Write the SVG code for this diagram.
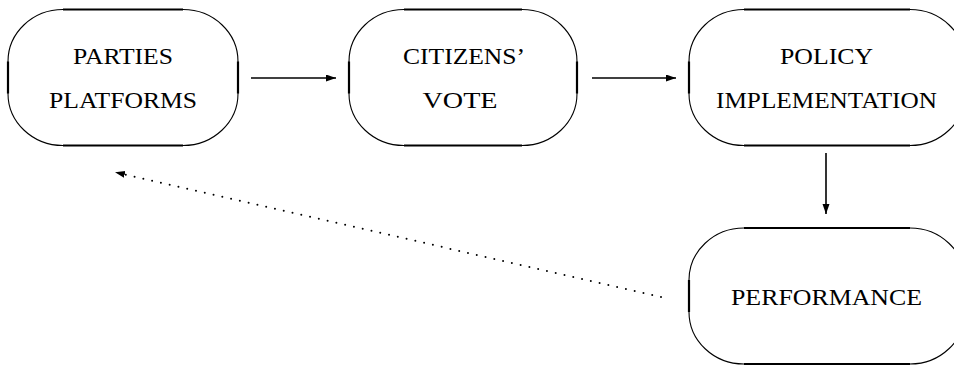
<svg xmlns="http://www.w3.org/2000/svg" width="954" height="367" viewBox="0 0 954 367">
<style>
.box{fill:#fff;stroke:#000;stroke-width:1.1}
.edge{fill:none;stroke:#000;stroke-width:2.2}
.lbl{font-family:"Liberation Serif","Times New Roman",serif;font-size:24px;fill:#000;text-anchor:middle}
.conn{stroke:#000;stroke-width:1.6;fill:none}
.dot{stroke:#000;stroke-width:2;fill:none;stroke-dasharray:0 9;stroke-linecap:round}
</style>
<defs>
<marker id="ah" markerUnits="userSpaceOnUse" markerWidth="11" markerHeight="8" refX="10" refY="3.5" orient="auto">
<path d="M0,0 L10,3.5 L0,7 z" fill="#000"/>
</marker>
</defs>
<rect width="954" height="367" fill="#fff"/>
<g id="parties">
<path class="box" d="M63 9.5 H183 A55 52 0 0 1 238 61.5 V93.5 A55 52 0 0 1 183 145.5 H63 A55 52 0 0 1 8 93.5 V61.5 A55 52 0 0 1 63 9.5 Z"/>
<path class="edge" d="M63 9.5 H183 M238 61.5 V93.5 M183 145.5 H63 M8 93.5 V61.5"/>
<text class="lbl" x="123" y="64" textLength="100" lengthAdjust="spacingAndGlyphs">PARTIES</text>
<text class="lbl" x="123" y="108" textLength="148" lengthAdjust="spacingAndGlyphs">PLATFORMS</text>
</g>
<g id="citizens">
<path class="box" d="M404 9.5 H522 A55 52 0 0 1 577 61.5 V93.5 A55 52 0 0 1 522 145.5 H404 A55 52 0 0 1 349 93.5 V61.5 A55 52 0 0 1 404 9.5 Z"/>
<path class="edge" d="M404 9.5 H522 M577 61.5 V93.5 M522 145.5 H404 M349 93.5 V61.5"/>
<text class="lbl" x="464" y="64" textLength="122" lengthAdjust="spacingAndGlyphs">CITIZENS’</text>
<text class="lbl" x="460" y="108" textLength="75" lengthAdjust="spacingAndGlyphs">VOTE</text>
</g>
<g id="policy">
<path class="box" d="M744 9.5 H910 A55 52 0 0 1 965 61.5 V93.5 A55 52 0 0 1 910 145.5 H744 A55 52 0 0 1 689 93.5 V61.5 A55 52 0 0 1 744 9.5 Z"/>
<path class="edge" d="M744 9.5 H910 M965 61.5 V93.5 M910 145.5 H744 M689 93.5 V61.5"/>
<text class="lbl" x="826.5" y="64" textLength="93" lengthAdjust="spacingAndGlyphs">POLICY</text>
<text class="lbl" x="826.5" y="108" textLength="221" lengthAdjust="spacingAndGlyphs">IMPLEMENTATION</text>
</g>
<g id="performance">
<path class="box" d="M744 228 H910 A55 52 0 0 1 965 280 V312 A55 52 0 0 1 910 364 H744 A55 52 0 0 1 689 312 V280 A55 52 0 0 1 744 228 Z"/>
<path class="edge" d="M744 228 H910 M965 280 V312 M910 364 H744 M689 312 V280"/>
<text class="lbl" x="826.5" y="305" textLength="191" lengthAdjust="spacingAndGlyphs">PERFORMANCE</text>
</g>
<g id="connectors">
<line class="conn" x1="251" y1="78" x2="336" y2="78" marker-end="url(#ah)"/>
<line class="conn" x1="592" y1="78" x2="676" y2="78" marker-end="url(#ah)"/>
<line class="conn" x1="826" y1="153" x2="826" y2="214" marker-end="url(#ah)"/>
<line class="dot" x1="661" y1="297" x2="125" y2="174.5"/>
<line stroke="none" x1="125" y1="174.5" x2="115" y2="172.2" marker-end="url(#ah)"/>
</g>
</svg>
